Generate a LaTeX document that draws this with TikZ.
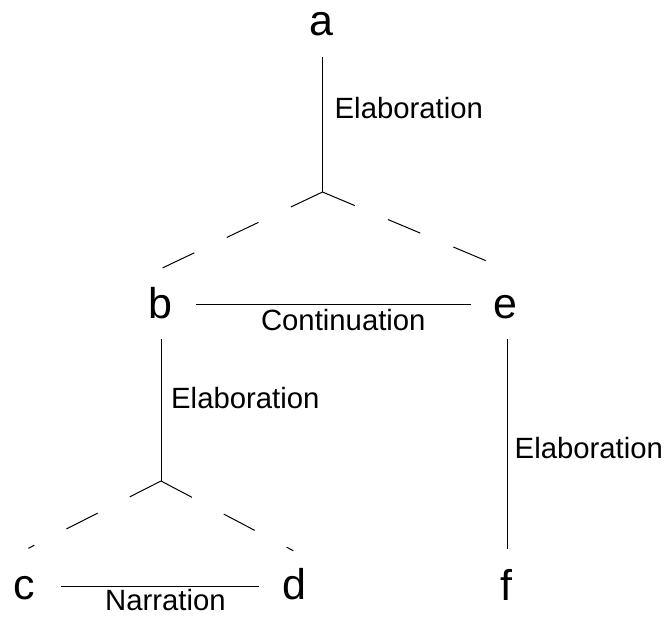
\documentclass[tikz,border=0pt]{standalone}
\usepackage{fontspec}
\setmainfont{Liberation Sans}
\begin{document}
\begin{tikzpicture}[x=1pt,y=-1pt,
  letter/.style={font=\fontsize{43}{43}\selectfont, inner sep=0pt, anchor=base},
  lbl/.style={font=\fontsize{29.3}{30}\selectfont, inner sep=0pt, anchor=base west},
  lblc/.style={font=\fontsize{29.3}{30}\selectfont, inner sep=0pt, anchor=base},
  rel/.style={line width=1pt},
  sub/.style={line width=1pt, dash pattern=on 35pt off 36pt}]
\useasboundingbox (0,0) rectangle (671,616);
% discourse units
\node[letter] (a) at (321.5,35) {a};
\node[letter] (b) at (160,318) {b};
\node[letter] (e) at (505.5,318) {e};
\node[letter] (c) at (24,599) {c};
\node[letter] (d) at (294,599) {d};
\node[letter] (f) at (506.5,600) {f};
% relation labels
\node[lbl] (l1) at (334.5,118.3) {Elaboration};
\node[lblc] (l2) at (343.3,330) {Continuation};
\node[lbl] (l3) at (171,408) {Elaboration};
\node[lbl] (l4) at (514.5,458.3) {Elaboration};
\node[lblc] (l5) at (165.5,610) {Narration};
% connector end points
\coordinate (atop) at (322.5,57);
\coordinate (p1) at (322.5,192);
\coordinate (btop) at (161.7,268.3);
\coordinate (etop) at (488.3,261.7);
\coordinate (bR) at (196,304);
\coordinate (eL) at (470.7,304);
\coordinate (bbot) at (161,339);
\coordinate (p2) at (161,481);
\coordinate (ctop) at (28.3,548.3);
\coordinate (dtop) at (293.3,550.7);
\coordinate (cR) at (61,586);
\coordinate (dL) at (259.3,586);
\coordinate (ebot) at (507.3,339.3);
\coordinate (ftop) at (507.3,549.3);
% connectors
\draw[rel] (atop) -- (p1);
\draw[sub] (p1) -- (btop);
\draw[sub] (p1) -- (etop);
\draw[rel] (bR) -- (eL);
\draw[rel] (bbot) -- (p2);
\draw[sub] (p2) -- (ctop);
\draw[sub] (p2) -- (dtop);
\draw[rel] (cR) -- (dL);
\draw[rel] (ebot) -- (ftop);
\end{tikzpicture}
\end{document}
